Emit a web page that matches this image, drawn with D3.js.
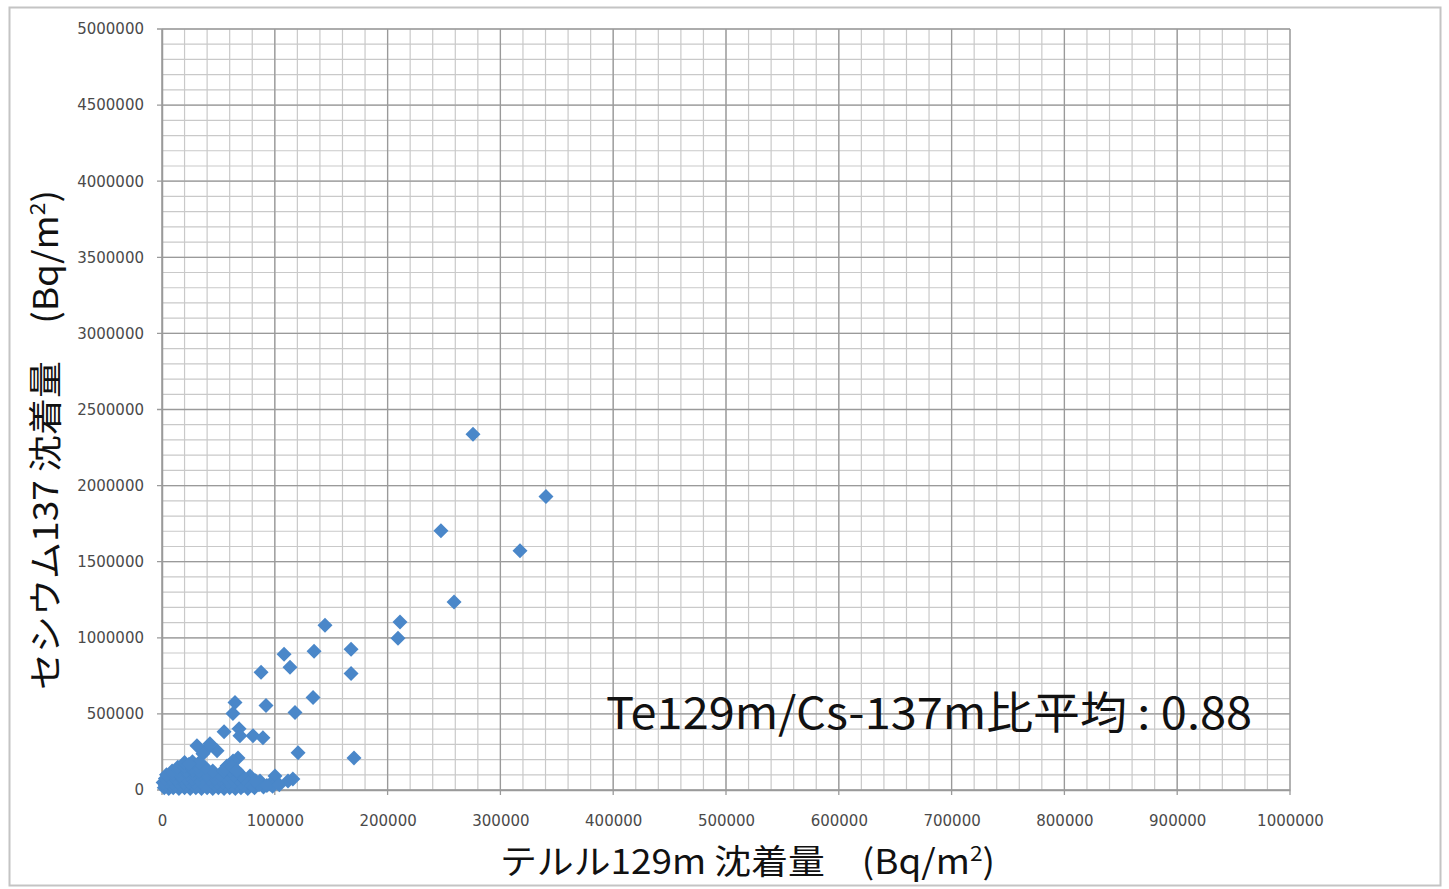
<!DOCTYPE html>
<html>
<head>
<meta charset="utf-8">
<script src="https://cdn.jsdelivr.net/npm/d3@7"></script>
<style>
    body { margin: 0; background: #fff; }
    svg { display: block; }
</style>
</head>
<body>
<svg id="chart" width="1449" height="889"></svg>
<script>
// テルル129m (x) / セシウム137 (y) 沈着量, Bq/m2
const teValues = [
    275700, 340400, 247300, 317400, 258900, 211000, 209200, 144500, 167600, 167600,
    134800, 108200, 113500, 87800, 133900, 117900, 92200, 64700, 62900, 120600,
    170200, 55000, 68300, 69100, 80700, 89500, 48800, 39900, 31000, 36300, 42500,
    67400, 63000, 57600, 100200, 111700, 86900, 116000, 78000, 96000,
    // 原点付近の密集部
    2000, 6000, 10000, 15000, 20000, 25000, 30000, 35000, 40000, 45000, 50000, 55000,
    60000, 65000, 70000, 76000, 82000, 90000, 98000,
    3000, 8000, 12000, 17000, 22000, 27000, 32000, 37000, 42000, 47000, 52000, 57000,
    62000, 67000, 72000, 80000, 86000, 93000, 104000,
    1000, 5000, 9000, 14000, 19000, 24000, 29000, 34000, 39000, 44000, 49000, 54000,
    59000, 64000, 70000, 75000, 83000,
    3000, 7000, 12000, 17000, 22000, 27000, 32000, 37000, 42000, 47000, 52000, 57000,
    62000, 67000, 72000,
    4000, 10000, 16000, 22000, 28000, 34000, 40000, 46000, 52000, 58000, 64000, 70000,
    9000, 15000, 21000, 27000, 33000, 39000, 45000, 55000, 61000, 67000,
    14000, 20000, 26000, 32000, 38000, 56000, 62000, 66000,
    20000, 27000, 33000, 24000
];
const csValues = [
    2338000, 1928700, 1704000, 1572000, 1235000, 1103000, 997000, 1083000, 925000, 766000,
    911000, 892000, 806000, 773000, 608000, 509000, 555000, 575000, 502000, 244000,
    211000, 383000, 403000, 357000, 357000, 343000, 258000, 271000, 291000, 238000, 304000,
    211000, 190000, 158000, 92000, 59000, 59000, 72000, 92000, 40000,
    15000, 10000, 15000, 10000, 15000, 10000, 15000, 10000, 15000, 10000, 15000, 10000,
    15000, 10000, 15000, 10000, 15000, 20000, 25000,
    30000, 35000, 30000, 35000, 30000, 35000, 30000, 35000, 30000, 35000, 30000, 35000,
    30000, 35000, 30000, 30000, 35000, 30000, 35000,
    50000, 55000, 50000, 55000, 50000, 55000, 50000, 55000, 50000, 55000, 50000, 55000,
    50000, 55000, 50000, 60000, 60000,
    75000, 78000, 75000, 78000, 75000, 78000, 75000, 78000, 75000, 78000, 75000, 78000,
    75000, 78000, 75000,
    100000, 105000, 100000, 105000, 100000, 105000, 100000, 105000, 100000, 105000, 100000, 100000,
    125000, 128000, 125000, 128000, 125000, 128000, 125000, 125000, 128000, 120000,
    150000, 155000, 150000, 155000, 150000, 140000, 150000, 130000,
    180000, 185000, 180000, 170000
];
const xTicks = d3.range(0, 1000001, 100000);
const yTicks = d3.range(0, 5000001, 500000);
const ratioLabel = "Te129m/Cs-137m比平均 : 0.88";

const points = teValues.map((x, i) => ({ x: x, y: csValues[i] }));

const svg = d3.select("#chart");
const margin = { top: 29, right: 159, bottom: 99, left: 162 };
const width = 1449 - margin.left - margin.right;
const height = 889 - margin.top - margin.bottom;

// 外枠
svg.append("rect")
    .attr("x", 9.5).attr("y", 7.5)
    .attr("width", 1431).attr("height", 878)
    .attr("fill", "none")
    .attr("stroke", "#c4c4c4")
    .attr("stroke-width", 2);

const xScale = d3.scaleLinear().domain([0, 1000000]).range([0, width]);
const yScale = d3.scaleLinear().domain([0, 5000000]).range([height, 0]);

const g = svg.append("g")
    .attr("transform", `translate(${margin.left}, ${margin.top})`);

// 補助目盛線
const xMinor = d3.range(0, 1000001, 20000);
const yMinor = d3.range(0, 5000001, 100000);
g.append("g").selectAll("line")
    .data(xMinor)
    .join("line")
    .attr("x1", d => xScale(d)).attr("x2", d => xScale(d))
    .attr("y1", 0).attr("y2", height)
    .attr("stroke", "#c9c9c9").attr("stroke-width", 1.2);
g.append("g").selectAll("line")
    .data(yMinor)
    .join("line")
    .attr("x1", 0).attr("x2", width)
    .attr("y1", d => yScale(d)).attr("y2", d => yScale(d))
    .attr("stroke", "#c9c9c9").attr("stroke-width", 1.2);

// 主目盛線
g.append("g").selectAll("line")
    .data(xTicks)
    .join("line")
    .attr("x1", d => xScale(d)).attr("x2", d => xScale(d))
    .attr("y1", 0).attr("y2", height + 5)
    .attr("stroke", "#9a9a9a").attr("stroke-width", 1.3);
g.append("g").selectAll("line")
    .data(yTicks)
    .join("line")
    .attr("x1", -5).attr("x2", width)
    .attr("y1", d => yScale(d)).attr("y2", d => yScale(d))
    .attr("stroke", "#9a9a9a").attr("stroke-width", 1.3);

// 軸
const xAxis = g.append("g")
    .attr("transform", `translate(0, ${height})`)
    .call(d3.axisBottom(xScale).tickValues(xTicks).tickSize(0).tickPadding(25).tickFormat(d3.format("d")));
const yAxis = g.append("g")
    .call(d3.axisLeft(yScale).tickValues(yTicks).tickSize(0).tickPadding(18).tickFormat(d3.format("d")));
[xAxis, yAxis].forEach(a => {
    a.select(".domain").attr("stroke", "#9a9a9a").attr("stroke-width", 1.5);
    a.selectAll("text")
        .attr("fill", "#4a4a4a")
        .style("font-family", "'DejaVu Sans', sans-serif")
        .style("font-size", "15px");
});

// 散布点（ひし形）
g.append("g").selectAll("path")
    .data(points)
    .join("path")
    .attr("transform", d => `translate(${xScale(d.x)}, ${yScale(d.y)})`)
    .attr("d", "M0,-7.5L7.5,0L0,7.5L-7.5,0Z")
    .attr("fill", "#4a87c9");

// 注記
svg.append("text")
    .attr("x", 606)
    .attr("y", 729)
    .attr("fill", "#111")
    .attr("textLength", 646)
    .attr("lengthAdjust", "spacingAndGlyphs")
    .style("font-family", "'Noto Sans CJK JP', sans-serif")
    .style("font-size", "44px")
    .text(ratioLabel);

// 軸タイトル
const titleFont = "'Noto Sans CJK JP', 'Noto Sans', sans-serif";
const xTitle = svg.append("text")
    .attr("x", 500).attr("y", 874)
    .attr("fill", "#111")
    .attr("textLength", 495)
    .attr("lengthAdjust", "spacingAndGlyphs")
    .style("font-family", titleFont)
    .style("font-size", "34px");
xTitle.append("tspan").text("テルル129m 沈着量\u3000(Bq/m");
xTitle.append("tspan").attr("dy", -13).style("font-size", "21px").text("2");
xTitle.append("tspan").attr("dy", 13).text(")");

const yTitle = svg.append("text")
    .attr("transform", "translate(58, 690) rotate(-90)")
    .attr("fill", "#111")
    .attr("textLength", 500)
    .attr("lengthAdjust", "spacingAndGlyphs")
    .style("font-family", titleFont)
    .style("font-size", "34px");
yTitle.append("tspan").text("セシウム137 沈着量\u3000(Bq/m");
yTitle.append("tspan").attr("dy", -13).style("font-size", "21px").text("2");
yTitle.append("tspan").attr("dy", 13).text(")");
</script>
</body>
</html>
